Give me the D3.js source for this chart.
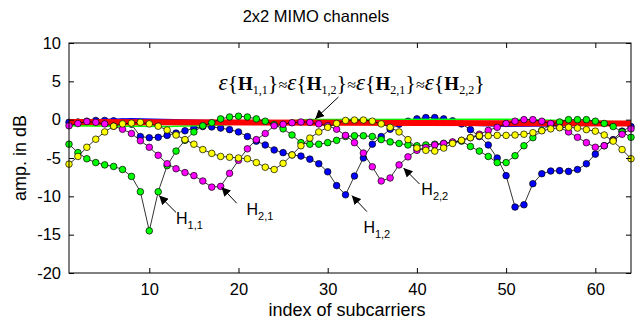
<!DOCTYPE html>
<html>
<head>
<meta charset="utf-8">
<script src="https://cdn.jsdelivr.net/npm/d3@7/dist/d3.min.js"></script>
<style>
  body { margin: 0; background: #fff; }
</style>
</head>
<body>
<div id="chart"></div>
<script>
// channel amplitudes in dB, subcarriers 1..64
var h11 = [-3.2, -4.3, -5.1, -5.6, -5.9, -6.1, -6.5, -7.4, -9.4, -14.5, -9.4, -6.0, -4.1, -2.7, -1.6, -0.8,
           -0.4, 0.1, 0.35, 0.45, 0.35, 0.1, -0.2, -0.65, -1.2, -2.0, -3.0, -3.2, -3.2, -3.0, -2.7, -2.2,
           -2.1, -2.1, -2.2, -2.6, -2.9, -3.1, -3.3, -3.4, -3.3, -3.2, -3.1, -3.0, -2.8, -3.5, -4.1, -4.8,
           -5.6, -5.6, -4.7, -3.4, -2.35, -1.4, -0.6, -0.3, 0, 0, 0, -0.2, -0.5, -0.9, -1.6, -2.3];
var h21 = [-0.8, -0.5, -0.25, -0.35, -0.55, -0.85, -1.25, -1.8, -2.75, -3.6, -4.65, -5.75, -6.4, -6.9, -7.3, -8.0,
           -8.8, -8.7, -7.0, -5.3, -3.8, -2.6, -1.8, -0.8, -0.6, -0.4, -0.3, -0.35, -0.55, -0.8, -1.25, -2.05,
           -3.0, -4.35, -6.15, -8.0, -7.6, -5.9, -4.85, -4.0, -3.65, -3.3, -3.1, -2.9, -2.7, -2.35, -1.9, -1.4,
           -1.0, -0.5, -0.2, 0, 0, -0.2, -0.5, -1.0, -1.6, -2.3, -3.0, -3.6, -3.4, -2.7, -1.9, -1.2];
var h12 = [-0.35, -0.3, -0.2, -0.1, -0.1, -0.15, -0.3, -0.6, -2.2, -2.35, -2.3, -2.05, -1.75, -1.45, -1.1, -0.9,
           -0.95, -1.1, -1.3, -1.6, -2.2, -2.8, -3.3, -3.95, -4.3, -4.6, -4.75, -5.15, -5.75, -6.8, -8.6, -9.8,
           -7.35, -5.0, -3.2, -2.2, -1.25, -0.6, -0.2, 0.1, 0.27, 0.27, 0.1, -0.15, -0.55, -1.3, -2.2, -3.3,
           -5.0, -7.3, -11.4, -11.1, -8.35, -7.05, -6.7, -6.65, -6.75, -6.5, -5.75, -4.5, -3.4, -2.6, -1.5, -0.9];
var h22 = [-5.8, -4.8, -3.6, -2.55, -1.6, -0.85, -0.55, -0.45, -0.35, -0.55, -0.85, -1.35, -2.0, -2.6, -3.2, -3.9,
           -4.4, -4.8, -4.9, -5.0, -5.1, -5.6, -6.2, -6.5, -5.7, -4.6, -3.4, -2.4, -1.6, -1.0, -0.5, -0.1,
           -0.05, -0.05, -0.2, -0.55, -1.0, -1.6, -2.6, -3.7, -4.0, -4.1, -3.7, -3.1, -2.7, -2.35, -2.1, -2.1,
           -2.05, -2.05, -2.0, -1.9, -1.7, -1.45, -1.2, -1.05, -1.0, -1.1, -1.3, -1.5, -2.0, -2.8, -3.9, -5.1];

// expected values (mean lines)
var meanRedIdx = [1, 64];
var meanRed = [-0.3, -0.5];
var meanYellowIdx = [1, 6, 12, 64];
var meanYellow = [-0.75, -0.8, -0.6, -0.4];
var meanGreenIdx = [1, 12, 18, 28, 50, 64];
var meanGreen = [-0.8, -0.9, -0.7, 0, 0.05, -0.3];
var meanBlueIdx = [1, 8, 20, 40, 50, 56, 64];
var meanBlue = [-0.1, 0.1, -0.2, -0.5, -0.85, -0.8, -0.6];

var xTicks = [10, 20, 30, 40, 50, 60];
var yTicks = [-20, -15, -10, -5, 0, 5, 10];

var SANS = '"Liberation Sans", Arial, sans-serif';
var SERIF = '"Liberation Serif", "Times New Roman", serif';

var Chart = {
    init: function () {
        this.w = 643;
        this.h = 321;
        this.m = { left: 69, right: 12, top: 43, bottom: 48 };
        this.x = d3.scaleLinear().domain([1, 64]).range([this.m.left, this.w - this.m.right]);
        this.y = d3.scaleLinear().domain([-20, 10]).range([this.h - this.m.bottom, this.m.top]);
        this.svg = d3.select('#chart').append('svg')
            .attr('width', this.w)
            .attr('height', this.h)
            .attr('font-family', SANS);
        this.defs();
        this.drawSeries(h12, '#0000ff');
        this.drawMeans();
        this.drawSeries(h11, '#00ff00');
        this.drawSeries(h21, '#ff00ff');
        this.drawSeries(h22, '#ffff00');
        this.drawAxes();
        this.drawNotes();
        return this;
    },
    defs: function () {
        this.svg.append('defs').append('marker')
            .attr('id', 'head')
            .attr('viewBox', '0 0 10 10')
            .attr('refX', 10).attr('refY', 5)
            .attr('markerWidth', 9).attr('markerHeight', 9)
            .attr('markerUnits', 'userSpaceOnUse')
            .attr('orient', 'auto')
            .append('path')
            .attr('d', 'M0,0L10,5L0,10z')
            .attr('fill', '#000');
    },
    drawSeries: function (vals, color) {
        var that = this;
        var pts = vals.map(function (v, i) { return [i + 1, v]; });
        var line = d3.line()
            .x(function (d) { return that.x(d[0]); })
            .y(function (d) { return that.y(d[1]); });
        var g = this.svg.append('g');
        g.append('path')
            .attr('d', line(pts))
            .attr('fill', 'none')
            .attr('stroke', '#000')
            .attr('stroke-width', 0.8);
        g.selectAll('circle')
            .data(pts)
            .enter()
            .append('circle')
            .attr('cx', function (d) { return that.x(d[0]); })
            .attr('cy', function (d) { return that.y(d[1]); })
            .attr('r', 3.3)
            .attr('fill', color)
            .attr('stroke', '#000')
            .attr('stroke-width', 0.7);
    },
    drawMeans: function () {
        var that = this;
        var line = d3.line()
            .x(function (d) { return that.x(d[0]); })
            .y(function (d) { return that.y(d[1]); });
        var zip = function (a, b) { return a.map(function (v, i) { return [v, b[i]]; }); };
        [[meanYellowIdx, meanYellow, '#ffff00', 1.6],
         [meanGreenIdx, meanGreen, '#00ff00', 1.6],
         [meanBlueIdx, meanBlue, '#0000ff', 1.6],
         [meanRedIdx, meanRed, '#ff0000', 6]].forEach(function (s) {
            that.svg.append('path')
                .attr('d', line(zip(s[0], s[1])))
                .attr('fill', 'none')
                .attr('stroke', s[2])
                .attr('stroke-width', s[3]);
        });
    },
    drawAxes: function () {
        var x = this.x, y = this.y, svg = this.svg;
        var x0 = x.range()[0], x1 = x.range()[1], y0 = y.range()[0], y1 = y.range()[1];
        var tl = 5;

        svg.append('rect')
            .attr('x', x0).attr('y', y1)
            .attr('width', x1 - x0).attr('height', y0 - y1)
            .attr('fill', 'none')
            .attr('stroke', '#000')
            .attr('stroke-width', 1);

        var bottom = d3.axisBottom(x).tickValues(xTicks).tickSize(-tl).tickPadding(10);
        var top = d3.axisTop(x).tickValues(xTicks).tickSize(-tl).tickFormat('');
        var left = d3.axisLeft(y).tickValues(yTicks).tickSize(-tl).tickPadding(8);
        var right = d3.axisRight(y).tickValues(yTicks).tickSize(-tl).tickFormat('');

        var gb = svg.append('g').attr('transform', 'translate(0,' + y0 + ')').call(bottom);
        var gt = svg.append('g').attr('transform', 'translate(0,' + y1 + ')').call(top);
        var gl = svg.append('g').attr('transform', 'translate(' + x0 + ',0)').call(left);
        var gr = svg.append('g').attr('transform', 'translate(' + x1 + ',0)').call(right);
        [gb, gt, gl, gr].forEach(function (g) {
            g.attr('font-family', SANS).attr('font-size', 16.5);
            g.select('.domain').remove();
            g.selectAll('line').attr('stroke', '#000');
            g.selectAll('text').attr('fill', '#000');
        });
        gl.selectAll('text').text(function (d) { return d < 0 ? '-' + Math.abs(d) : d; });

        svg.append('text')
            .attr('x', (x0 + x1) / 2 - 3)
            .attr('y', 316)
            .attr('text-anchor', 'middle')
            .attr('font-size', 18)
            .text('index of subcarriers');
        svg.append('text')
            .attr('transform', 'translate(26,' + ((y0 + y1) / 2) + ') rotate(-90)')
            .attr('text-anchor', 'middle')
            .attr('font-size', 18)
            .text('amp. in dB');
        svg.append('text')
            .attr('x', 316)
            .attr('y', 22)
            .attr('text-anchor', 'middle')
            .attr('font-size', 16.5)
            .text('2x2 MIMO channels');
    },
    drawNotes: function () {
        var x = this.x, y = this.y, svg = this.svg;
        var notes = [
            { sub: '1,1', label: [13.0, -13.6], tail: [13.0, -12.1], tip: [11.1, -9.9] },
            { sub: '2,1', label: [20.9, -12.4], tail: [19.8, -10.9], tip: [18.1, -8.8] },
            { sub: '1,2', label: [34.0, -14.8], tail: [34.4, -12.0], tip: [32.7, -9.9] },
            { sub: '2,2', label: [40.5, -9.8], tail: [40.3, -8.4], tip: [38.5, -6.3] }
        ];
        notes.forEach(function (n) {
            svg.append('line')
                .attr('x1', x(n.tail[0])).attr('y1', y(n.tail[1]))
                .attr('x2', x(n.tip[0])).attr('y2', y(n.tip[1]))
                .attr('stroke', '#000')
                .attr('stroke-width', 1)
                .attr('marker-end', 'url(#head)');
            var t = svg.append('text')
                .attr('x', x(n.label[0]))
                .attr('y', y(n.label[1]))
                .attr('font-size', 16);
            t.append('tspan').text('H');
            t.append('tspan').attr('font-size', 11).attr('dy', 5).text(n.sub);
        });

        // expectation annotation
        svg.append('line')
            .attr('x1', x(31.2)).attr('y1', y(2.95))
            .attr('x2', x(28.6)).attr('y2', y(0.1))
            .attr('stroke', '#000')
            .attr('stroke-width', 1)
            .attr('marker-end', 'url(#head)');

        var subs = ['1,1', '1,2', '2,1', '2,2'];
        var e = svg.append('text')
            .attr('x', x(17.75))
            .attr('y', 90)
            .attr('font-family', SERIF)
            .attr('font-size', 19);
        subs.forEach(function (s, i) {
            if (i > 0) e.append('tspan').attr('font-size', 16).text('\u2248');
            e.append('tspan').attr('font-style', 'italic').attr('font-size', 23).text('\u03b5');
            e.append('tspan').attr('font-size', 22).text('{');
            e.append('tspan').attr('font-weight', 'bold').text('H');
            e.append('tspan').attr('font-size', 12).attr('dy', 4).text(s);
            e.append('tspan').attr('font-size', 22).attr('dy', -4).text('}');
        });
    }
};

Chart.init();
</script>
</body>
</html>
